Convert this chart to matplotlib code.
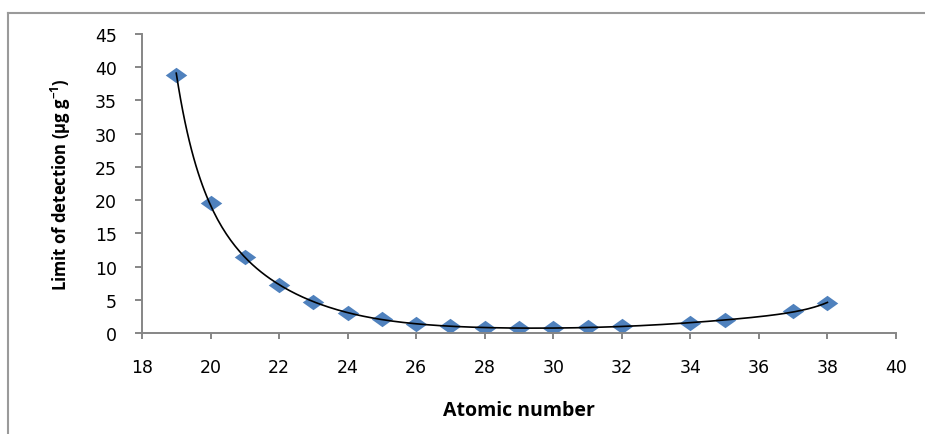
import numpy as np
import matplotlib
matplotlib.use("Agg")
import matplotlib.pyplot as plt
from matplotlib.lines import Line2D

# datos
atomic_number = [19, 20, 21, 22, 23, 24, 25, 26, 27, 28, 29, 30, 31, 32, 34, 35, 37, 38]
lod = [38.9, 19.5, 11.4, 7.2, 4.7, 3.05, 2.05, 1.4, 1.05, 0.8, 0.7, 0.75, 0.85, 1.0, 1.55, 1.9, 3.25, 4.55]

x_ticks = [18, 20, 22, 24, 26, 28, 30, 32, 34, 36, 38, 40]
y_ticks = [0, 5, 10, 15, 20, 25, 30, 35, 40, 45]

azul = "#4F81BD"
gris = "#868686"

fig = plt.figure(figsize=(9.25, 4.35), dpi=100)
ax = fig.add_axes([0.1535, 0.2322, 0.8151, 0.6873])

# linea de tendencia: ajuste polinomico sobre log(lod)
x = np.array(atomic_number, dtype=float)
coef = np.polyfit(x, np.log(lod), 6)
xs = np.linspace(19, 38, 300)
ax.plot(xs, np.exp(np.polyval(coef, xs)), color="black", lw=1.2, zorder=3)

# marcadores en forma de rombo (mas anchos que altos)
rombo = [(0, 1), (1.4, 0), (0, -1), (-1.4, 0), (0, 1)]
ax.plot(atomic_number, lod, linestyle="none", marker=rombo, markersize=15.5,
        color=azul, markeredgewidth=0, zorder=2)

ax.set_xlim(18, 40)
ax.set_ylim(0, 45)
ax.set_xticks(x_ticks)
ax.set_yticks(y_ticks)
ax.set_xticklabels([str(v) for v in x_ticks], fontsize=12.5, family="DejaVu Sans")
ax.set_yticklabels([str(v) for v in y_ticks], fontsize=12.5, family="DejaVu Sans")

for lado in ["top", "right"]:
    ax.spines[lado].set_visible(False)
for lado in ["left", "bottom"]:
    ax.spines[lado].set_color(gris)
    ax.spines[lado].set_linewidth(1.4)
ax.tick_params(axis="x", direction="out", length=4, width=1.4, color=gris, pad=14)
ax.tick_params(axis="y", direction="out", length=5, width=1.4, color=gris, pad=13)

ax.set_xlabel("Atomic number", fontsize=14, fontweight="bold", family="Open Sans")
ax.set_ylabel("Limit of detection (\u00b5g g$^{\\mathregular{-1}}$)", fontsize=12,
              fontweight="bold", family="Open Sans")
ax.xaxis.set_label_coords(0.5, -0.225)
ax.yaxis.set_label_coords(-0.092, 0.5)

# marco exterior del grafico
fig.add_artist(Line2D([8 / 925, 1], [1 - 14 / 435, 1 - 14 / 435], color="#9a9a9a", lw=1.5,
                      transform=fig.transFigure))
fig.add_artist(Line2D([8 / 925, 8 / 925], [0, 1 - 14 / 435], color="#9a9a9a", lw=1.5,
                      transform=fig.transFigure))

fig.savefig("out.png", dpi=100)
